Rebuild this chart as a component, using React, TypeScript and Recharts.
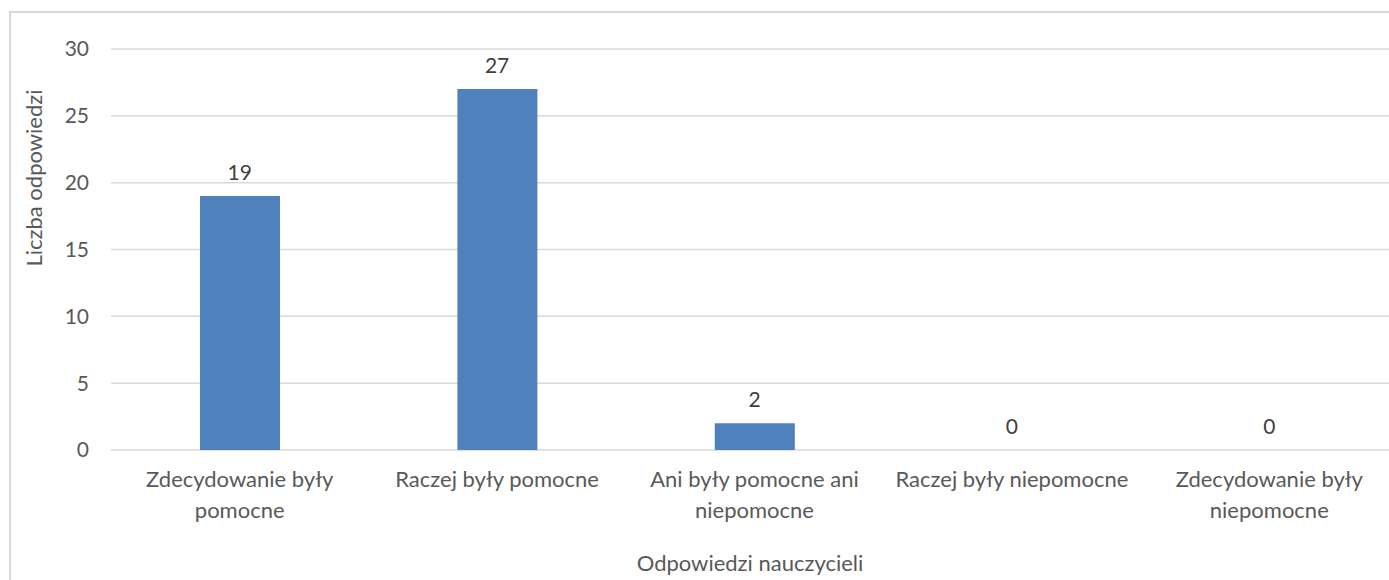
import React from "react";
import { ComposedChart, Bar, Line, XAxis, YAxis, CartesianGrid, LabelList } from "recharts";

const categories = [
  "Zdecydowanie były pomocne",
  "Raczej były pomocne",
  "Ani były pomocne ani niepomocne",
  "Raczej były niepomocne",
  "Zdecydowanie były niepomocne",
];
const counts = [19, 27, 2, 0, 0];
const yTicks = [0, 5, 10, 15, 20, 25, 30];

const data = categories.map((name, i) => ({ name, value: counts[i] }));

const FONT = "Lato, 'Open Sans', sans-serif";
const GREY = "#595959";
const TICK_SIZE = 22;
const WRAP_WIDTH = 252;

let ctx: CanvasRenderingContext2D | null = null;
function measure(s: string) {
  if (!ctx) {
    ctx = document.createElement("canvas").getContext("2d");
  }
  if (!ctx) return s.length * TICK_SIZE * 0.5;
  ctx.font = `${TICK_SIZE}px ${FONT}`;
  return ctx.measureText(s).width;
}

// greedy word wrap, same idea as the band-width wrapping in the original
function wrap(label: string) {
  const words = label.split(" ");
  const lines: string[] = [];
  let cur = "";
  words.forEach((w) => {
    const next = cur ? cur + " " + w : w;
    if (cur && measure(next) > WRAP_WIDTH) {
      lines.push(cur);
      cur = w;
    } else {
      cur = next;
    }
  });
  if (cur) lines.push(cur);
  return lines;
}

function CategoryTick(props: any) {
  const { x, y, payload } = props;
  const lines = wrap(String(payload.value));
  return (
    <text
      x={x}
      y={y}
      textAnchor="middle"
      fill={GREY}
      style={{ fontSize: TICK_SIZE, fontFamily: FONT }}
    >
      {lines.map((l, i) => (
        <tspan key={i} x={x} dy={i === 0 ? "0.71em" : 31}>
          {l}
        </tspan>
      ))}
    </text>
  );
}

export default function App() {
  return (
    <div
      style={{
        position: "absolute",
        left: 0,
        top: 0,
        width: 1389,
        height: 580,
        overflow: "hidden",
        background: "#fff",
        fontFamily: FONT,
      }}
    >
      <div
        style={{
          position: "absolute",
          left: 9,
          top: 11,
          width: 1420,
          height: 640,
          border: "2px solid #d9d9d9",
          boxSizing: "border-box",
        }}
      />
      <div style={{ position: "absolute", left: 0, top: 0 }}>
        <ComposedChart
          width={1400}
          height={580}
          data={data}
          margin={{ top: 49, right: 2, left: 51, bottom: 0 }}
        >
          <CartesianGrid vertical={false} stroke="#d9d9d9" strokeWidth={1.5} />
          <XAxis
            dataKey="name"
            height={130}
            axisLine={false}
            tickLine={false}
            tickSize={0}
            tickMargin={21}
            interval={0}
            tick={<CategoryTick />}
          />
          <YAxis
            width={60}
            domain={[0, 30]}
            ticks={yTicks}
            axisLine={false}
            tickLine={false}
            tickSize={0}
            tickMargin={22}
            tick={{ fill: GREY, fontSize: 21, fontFamily: FONT }}
          />
          <Bar dataKey="value" fill="#4f81bd" barSize={80} isAnimationActive={false} />
          {/* invisible series so the zero values get their labels too */}
          <Line
            dataKey="value"
            stroke="none"
            dot={false}
            activeDot={false}
            legendType="none"
            isAnimationActive={false}
          >
            <LabelList
              dataKey="value"
              position="top"
              offset={16}
              fill="#404040"
              style={{ fontSize: 21, fontFamily: FONT }}
            />
          </Line>
        </ComposedChart>
      </div>
      <div
        style={{
          position: "absolute",
          left: 33,
          top: 178,
          transform: "translate(-50%, -50%) rotate(-90deg)",
          whiteSpace: "nowrap",
          color: GREY,
          fontSize: 22,
        }}
      >
        Liczba odpowiedzi
      </div>
      <div
        style={{
          position: "absolute",
          left: 750,
          top: 562,
          transform: "translate(-50%, -50%)",
          whiteSpace: "nowrap",
          color: GREY,
          fontSize: 22,
        }}
      >
        Odpowiedzi nauczycieli
      </div>
    </div>
  );
}
